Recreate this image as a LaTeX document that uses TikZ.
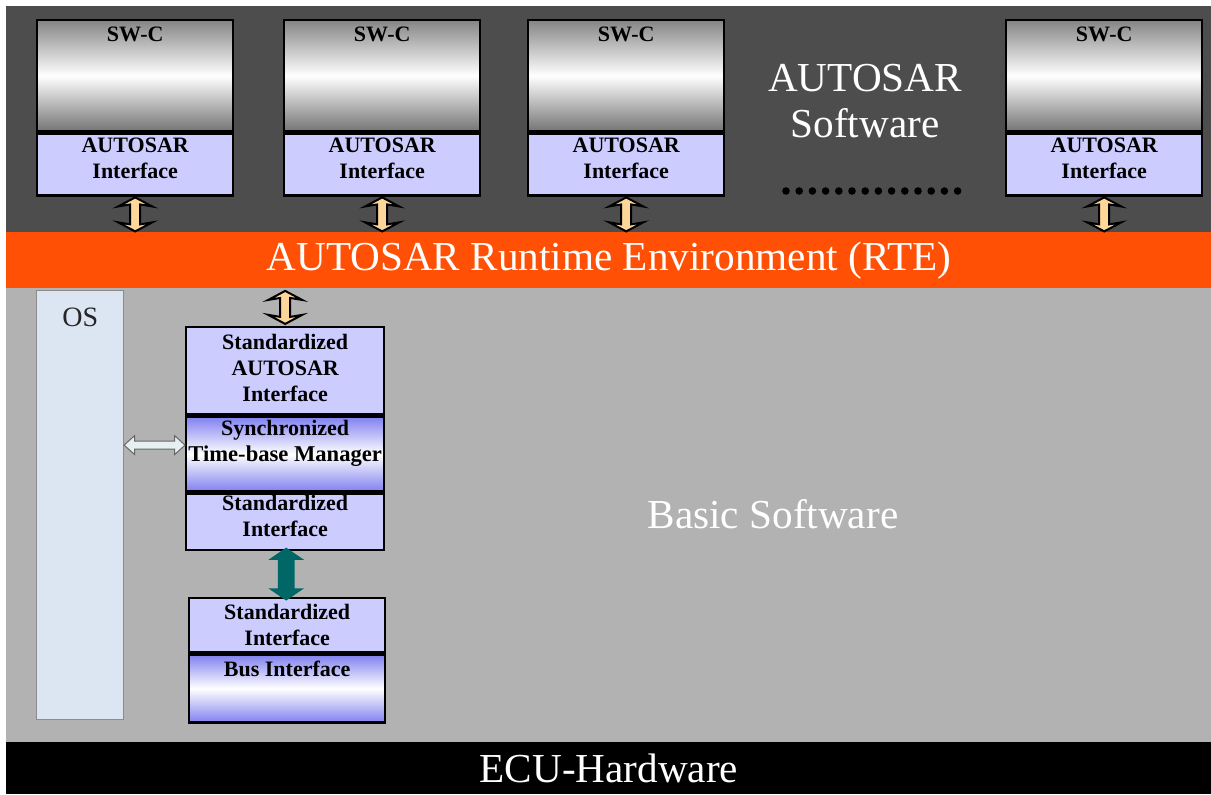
\documentclass[tikz,border=0pt]{standalone}
\usepackage{fontspec}
\setmainfont{Liberation Serif}
\usepackage{xcolor}
\usetikzlibrary{positioning,calc,shapes.arrows}

\definecolor{swdark}{HTML}{4D4D4D}
\definecolor{rteorange}{HTML}{FF5005}
\definecolor{bswgray}{HTML}{B2B2B2}
\definecolor{ifblue}{HTML}{CCCCFF}
\definecolor{osblue}{HTML}{DCE6F2}
\definecolor{gradblue}{HTML}{8080F0}
\definecolor{swtop}{HTML}{858585}
\definecolor{swbottom}{HTML}{747474}
\definecolor{arrorange}{HTML}{FFD699}
\definecolor{osarrow}{HTML}{E6F0F0}
\definecolor{busteal}{HTML}{006666}

\begin{document}
\begin{tikzpicture}[x=0.5pt,y=-0.5pt,
    band/.style={rectangle, inner sep=0pt, minimum width=602.5pt, anchor=north west,
        text=white, font=\fontsize{20.6}{23}\selectfont},
    bigtext/.style={text=white, align=center, font=\fontsize{20.6}{23}\selectfont},
    boxfont/.style={inner sep=0pt, align=center, font=\fontsize{11}{13}\selectfont\bfseries},
    swbox/.style={rectangle, draw=black, line width=1.2pt, inner sep=0pt,
        minimum width=98pt, minimum height=55.5pt, anchor=north west,
        top color=swtop, bottom color=swbottom, middle color=white},
    ifbox/.style={rectangle, draw=black, line width=1.2pt, fill=ifblue, boxfont,
        minimum width=98pt},
    gradbox/.style={rectangle, draw=black, line width=1.2pt, boxfont,
        minimum width=99pt, top color=gradblue, bottom color=gradblue, middle color=white},
    osbox/.style={rectangle, draw=black!45, line width=0.6pt, fill=osblue,
        minimum width=43.5pt, minimum height=214.5pt, anchor=north west},
    updown/.style={double arrow, rotate=90, draw=black, line width=1pt, fill=arrorange,
        inner xsep=0pt, inner ysep=2pt, minimum height=17pt, minimum width=16pt,
        double arrow head extend=6pt, double arrow tip angle=124, double arrow head indent=1pt},
    busarrow/.style={double arrow, rotate=90, fill=busteal, inner xsep=0pt, inner ysep=4pt,
        minimum height=26.5pt, minimum width=17.5pt,
        double arrow head extend=4.75pt, double arrow tip angle=111},
    lrarrow/.style={double arrow, draw=black!60, line width=0.5pt, fill=osarrow,
        inner xsep=0pt, inner ysep=1.75pt, minimum height=30.5pt, minimum width=9pt,
        double arrow head extend=2.75pt, double arrow tip angle=84}
]
    \useasboundingbox (0,0) rectangle (1211,794);

    % layers
    \node[band, fill=swdark, minimum height=113pt] (asw) at (6,6) {};
    \node[band, fill=rteorange, minimum height=28pt] (rte) at (6,232) {AUTOSAR Runtime Environment (RTE)};
    \node[band, fill=bswgray, minimum height=227pt] (bsw) at (6,288) {};
    \node[band, fill=black, minimum height=26pt] (ecu) at (6,742) {ECU-Hardware};

    \node[bigtext] (asw text) at (865,101) {AUTOSAR\\Software};
    \node[bigtext] (bsw text) at (773,514) {Basic Software};

    % software components
    \node[swbox] (swc1) at (36,19) {};
    \node[boxfont, below=4pt of swc1.north] (swc1 text) {SW-C};
    \node[ifbox, minimum height=31pt, text depth=6pt, below=0pt of swc1] (if1) {AUTOSAR\\Interface};

    \node[swbox] (swc2) at (283,19) {};
    \node[boxfont, below=4pt of swc2.north] (swc2 text) {SW-C};
    \node[ifbox, minimum height=31pt, text depth=6pt, below=0pt of swc2] (if2) {AUTOSAR\\Interface};

    \node[swbox] (swc3) at (527,19) {};
    \node[boxfont, below=4pt of swc3.north] (swc3 text) {SW-C};
    \node[ifbox, minimum height=31pt, text depth=6pt, below=0pt of swc3] (if3) {AUTOSAR\\Interface};

    \node[swbox] (swc4) at (1005,19) {};
    \node[boxfont, below=4pt of swc4.north] (swc4 text) {SW-C};
    \node[ifbox, minimum height=31pt, text depth=6pt, below=0pt of swc4] (if4) {AUTOSAR\\Interface};

    \foreach \d in {0,...,13}
        \fill[black] (786+\d*13.2,191) circle (1.9pt);

    \node[updown] (a1) at ($(if1.south)!.5!(if1.south |- rte.north)$) {};
    \node[updown] (a2) at ($(if2.south)!.5!(if2.south |- rte.north)$) {};
    \node[updown] (a3) at ($(if3.south)!.5!(if3.south |- rte.north)$) {};
    \node[updown] (a4) at ($(if4.south)!.5!(if4.south |- rte.north)$) {};

    % basic software
    \node[osbox] (os) at (36,290) {};
    \node[below right=9pt and 13pt of os.north west, inner sep=0pt, text=black!85,
        font=\fontsize{14}{16}\selectfont] (os text) {OS};

    \node[ifbox, minimum width=99pt, minimum height=43.5pt, text depth=3pt, anchor=north west] (sai) at (185,326)
        {Standardized\\AUTOSAR\\Interface};
    \node[gradbox, minimum height=37.5pt, text depth=13pt, below=0pt of sai] (stbm)
        {Synchronized\\{\fontsize{11.3}{13}\selectfont Time-base Manager}};
    \node[ifbox, minimum width=99pt, minimum height=28pt, text depth=6pt, below=0pt of stbm] (si1) {Standardized\\Interface};

    \node[ifbox, minimum height=27pt, anchor=north west] (si2) at (188,597) {Standardized\\Interface};
    \node[gradbox, minimum width=98pt, minimum height=34pt, below=0pt of si2] (bus) {};
    \node[boxfont, below=3.5pt of bus.north] (bus text) {Bus Interface};

    \node[updown, minimum height=16.5pt] (a5) at ($(rte.south -| sai.north)!.5!(sai.north)$) {};
    \node[busarrow] (a6) at ($(si1.south)!.5!(si2.north)$) {};
    \node[lrarrow] (a7) at ($(os.east |- stbm.west)!.5!(stbm.west)+(0,-9)$) {};
\end{tikzpicture}
\end{document}
